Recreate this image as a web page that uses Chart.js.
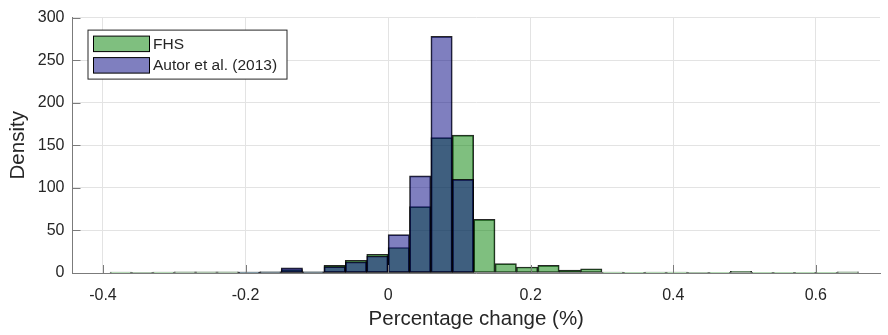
<!DOCTYPE html>
<html>
<head>
<meta charset="utf-8">
<script src="https://cdn.jsdelivr.net/npm/chart.js@4.4.1/dist/chart.umd.min.js"></script>
<style>
  html, body { margin: 0; padding: 0; background: #ffffff; }
  #wrap { width: 888px; height: 335px; position: relative; }
</style>
</head>
<body>
<div id="wrap"><canvas id="chart" width="888" height="335"></canvas></div>
<script>
// Histogram bins (centre of each 0.03-wide bin)
const binCenters = [
  -0.375, -0.345, -0.315, -0.285, -0.255, -0.225, -0.195, -0.165, -0.135, -0.105,
  -0.075, -0.045, -0.015, 0.015, 0.045, 0.075, 0.105, 0.135, 0.165, 0.195,
  0.225, 0.255, 0.285, 0.315, 0.345, 0.375, 0.405, 0.435, 0.465, 0.495,
  0.525, 0.555, 0.585, 0.615, 0.645
];

// Density per bin
const fhsDensity = [
  1, 0.5, 1, 1.5, 1.5, 1.5, 1, 1.5, 4, 1.5,
  9, 15, 22, 30, 78, 159, 162, 63, 11, 7,
  9, 3.5, 5, 1, 0.3, 1, 1, 0.5, 0.3, 2,
  0.3, 0.3, 0.3, 0.3, 1.5
];
const autorDensity = [
  null, null, null, null, null, null, 1, 1.5, 6, 1.5,
  7.5, 13, 20, 45, 114, 278, 110, null, null, null,
  null, null, null, null, null, null, null, null, null, null,
  null, null, null, null, null
];

const seriesLabels = ['FHS', 'Autor et al. (2013)'];
const xTickValues = [-0.4, -0.2, 0, 0.2, 0.4, 0.6];
const yTickValues = [0, 50, 100, 150, 200, 250, 300];

const FONT = 'Liberation Sans, Arial, Helvetica, sans-serif';
const AXIS_COLOR = '#7b7b7b';
const TEXT_COLOR = '#262626';

const fhsFill = 'rgba(0,128,0,0.5)';
const autorFill = 'rgba(0,0,128,0.5)';
const edge = 'rgba(0,0,0,0.85)';

const toPoints = (vals) => binCenters.map((x, i) => ({ x: x, y: vals[i] }));

// inward tick marks like the classic MATLAB axes
const innerTicks = {
  id: 'innerTicks',
  afterDatasetsDraw(chart) {
    const { ctx, chartArea, scales } = chart;
    ctx.save();
    ctx.strokeStyle = AXIS_COLOR;
    ctx.lineWidth = 1;
    ctx.beginPath();
    xTickValues.forEach(v => {
      const px = Math.round(scales.x.getPixelForValue(v)) + 0.5;
      ctx.moveTo(px, chartArea.bottom);
      ctx.lineTo(px, chartArea.bottom - 8);
    });
    yTickValues.forEach(v => {
      const py = Math.round(scales.y.getPixelForValue(v)) + 0.5;
      ctx.moveTo(chartArea.left, py);
      ctx.lineTo(chartArea.left + 8, py);
    });
    ctx.stroke();
    ctx.restore();
  }
};

// boxed legend in the upper-left corner of the plot
const boxLegend = {
  id: 'boxLegend',
  afterDraw(chart) {
    const { ctx, chartArea } = chart;
    const x0 = chartArea.left + 15.5, y0 = chartArea.top + 12.5;
    const w = 199, h = 49;
    ctx.save();
    ctx.fillStyle = '#ffffff';
    ctx.fillRect(x0, y0, w, h);
    ctx.strokeStyle = '#262626';
    ctx.lineWidth = 1;
    ctx.strokeRect(x0, y0, w, h);
    const fills = [fhsFill, autorFill];
    ctx.font = '15.5px ' + FONT;
    ctx.textBaseline = 'middle';
    seriesLabels.forEach((lab, i) => {
      const sy = y0 + 6 + i * 21.5;
      ctx.fillStyle = fills[i];
      ctx.fillRect(x0 + 5.5, sy, 56, 15.5);
      ctx.strokeStyle = '#000000';
      ctx.strokeRect(x0 + 5.5, sy, 56, 15.5);
      ctx.fillStyle = TEXT_COLOR;
      ctx.fillText(lab, x0 + 65, sy + 8.5);
    });
    ctx.restore();
  }
};

new Chart(document.getElementById('chart'), {
  type: 'bar',
  data: {
    datasets: [
      {
        label: seriesLabels[0],
        data: toPoints(fhsDensity),
        backgroundColor: fhsFill,
        borderColor: edge,
        borderWidth: 1,
        borderSkipped: false,
        grouped: false,
        barPercentage: 1,
        categoryPercentage: 1,
        order: 1
      },
      {
        label: seriesLabels[1],
        data: toPoints(autorDensity),
        backgroundColor: autorFill,
        borderColor: edge,
        borderWidth: 1,
        borderSkipped: false,
        grouped: false,
        barPercentage: 1,
        categoryPercentage: 1,
        order: 0
      }
    ]
  },
  options: {
    responsive: false,
    animation: false,
    devicePixelRatio: 1,
    layout: { padding: { left: 0, right: 8, top: 9, bottom: 0 } },
    plugins: {
      legend: { display: false },
      tooltip: { enabled: false }
    },
    scales: {
      x: {
        type: 'linear',
        min: -0.4427,
        max: 0.69,
        offset: false,
        afterBuildTicks(scale) { scale.ticks = xTickValues.map(v => ({ value: v })); },
        afterFit(scale) { scale.height = 62; },
        ticks: {
          color: TEXT_COLOR,
          font: { family: FONT, size: 16 },
          padding: 13,
          maxRotation: 0,
          callback: (v) => String(v)
        },
        grid: { color: '#e3e3e3', drawTicks: false, offset: false },
        border: { display: true, color: AXIS_COLOR },
        title: {
          display: true,
          text: 'Percentage change (%)',
          color: TEXT_COLOR,
          font: { family: FONT, size: 20.5 },
          padding: { top: 0, bottom: 3 }
        }
      },
      y: {
        min: 0,
        max: 300,
        afterBuildTicks(scale) { scale.ticks = yTickValues.map(v => ({ value: v })); },
        afterFit(scale) { scale.width = 72.5; },
        ticks: {
          color: TEXT_COLOR,
          font: { family: FONT, size: 16 },
          padding: 8
        },
        grid: { color: '#e3e3e3', drawTicks: false },
        border: { display: true, color: AXIS_COLOR },
        title: {
          display: true,
          text: 'Density',
          color: TEXT_COLOR,
          font: { family: FONT, size: 20.5 },
          padding: { top: 6, bottom: 0 }
        }
      }
    }
  },
  plugins: [innerTicks, boxLegend]
});
</script>
</body>
</html>
